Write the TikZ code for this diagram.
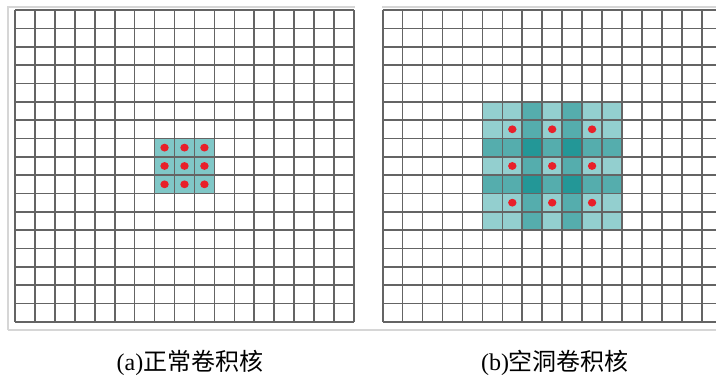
\documentclass[tikz,border=0pt]{standalone}
\usepackage{fontspec}
\setmainfont{Liberation Serif}
\newfontfamily\cjk{Noto Sans CJK SC}
\definecolor{gridc}{HTML}{646464}
\definecolor{framec}{HTML}{D6D6D6}
\definecolor{kerna}{HTML}{80C7C7}
\definecolor{shadeA}{HTML}{93CFCF}
\definecolor{shadeB}{HTML}{55ADAD}
\definecolor{shadeC}{HTML}{239797}
\definecolor{dotc}{HTML}{E8202A}
\tikzset{
  gridline/.style={draw=gridc, line width=1.6pt},
  framebox/.style={draw=framec, line width=1.2pt},
  reddot/.style={fill=dotc, draw=none},
  caption/.style={font=\fontsize{24}{28}\selectfont, inner sep=0pt},
}
\begin{document}
\begin{tikzpicture}[x=1pt,y=-1pt]
\useasboundingbox (0,0) rectangle (716,380);
\fill[white] (0,0) rectangle (716,380);
% frames
\draw[framebox] (8,330) -- (8,7) -- (355,7);
\draw[framebox] (382,7) -- (716,7);
\draw[framebox] (8,330) -- (716,330);
\def\dx{19.94}
\def\dy{18.35}
% ---- left panel: kernel (a)
\fill[kerna] ({15+7*\dx},{10+7*\dy}) rectangle ({15+10*\dx},{10+10*\dy});
% ---- right panel: dilated kernel (b)
\foreach \r in {0,...,6}{
  \foreach \c in {0,...,6}{
    \pgfmathtruncatemacro\s{(\r==2||\r==4)+(\c==2||\c==4)}
    \ifcase\s\def\sc{shadeA}\or\def\sc{shadeB}\or\def\sc{shadeC}\fi
    \fill[\sc] ({382.7+(5+\c)*\dx},{10+(5+\r)*\dy}) rectangle ({382.7+(6+\c)*\dx},{10+(6+\r)*\dy});
  }
}
% ---- grids
\foreach \i in {0,...,17}{
  \draw[gridline] ({15+\i*\dx},10) -- ({15+\i*\dx},{10+17*\dy});
  \draw[gridline] (15,{10+\i*\dy}) -- ({15+17*\dx},{10+\i*\dy});
  \draw[gridline] (382.7,{10+\i*\dy}) -- (716,{10+\i*\dy});
}
\foreach \i in {0,...,16}{
  \draw[gridline] ({382.7+\i*\dx},10) -- ({382.7+\i*\dx},{10+17*\dy});
}
% ---- dots
\foreach \r in {7,8,9}{
  \foreach \c in {7,8,9}{
    \fill[reddot] ({15+(\c+0.5)*\dx},{10+(\r+0.5)*\dy}) ellipse (4.2 and 3.9);
  }
}
\foreach \r in {6,8,10}{
  \foreach \c in {6,8,10}{
    \fill[reddot] ({382.7+(\c+0.5)*\dx},{10+(\r+0.5)*\dy}) ellipse (4.2 and 3.9);
  }
}
% ---- captions
\node[caption] (capa) at (190,363) {(a)\cjk 正常卷积核};
\node[caption] (capb) at (555,363) {(b)\cjk 空洞卷积核};
\end{tikzpicture}
\end{document}
